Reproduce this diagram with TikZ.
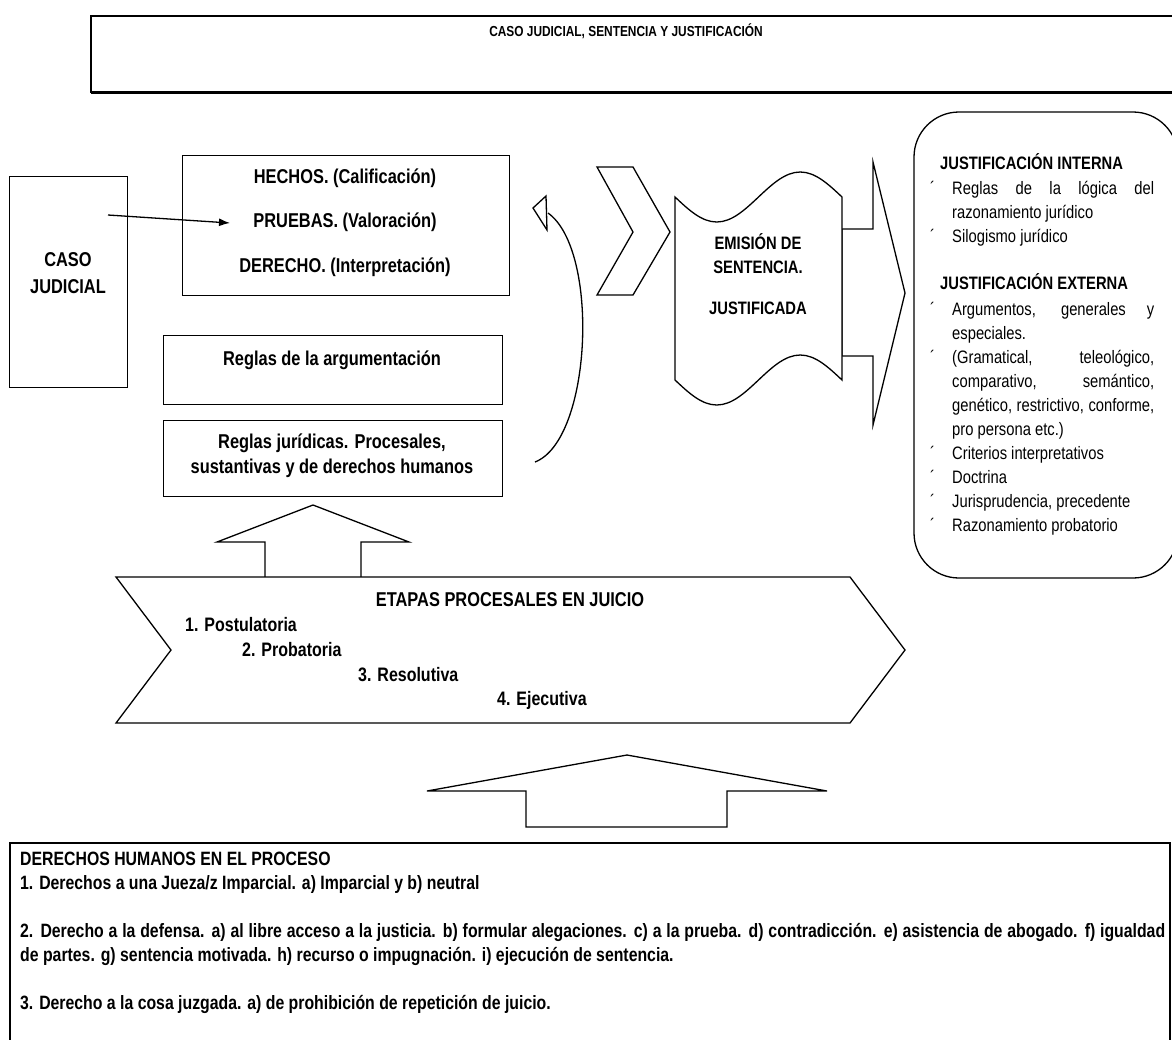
\documentclass[tikz,border=0pt]{standalone}
\usepackage{fontspec}
\setmainfont{Liberation Sans}[FakeStretch=0.82]
\usetikzlibrary{arrows.meta}
\newcommand{\bul}{\makebox[22pt][l]{´}}
\begin{document}
\begin{tikzpicture}[x=1pt,y=-1pt,
  shp/.style={draw,line width=1.3pt,fill=white,line join=miter},
  bx/.style={shp,inner sep=0pt,anchor=north west},
  tb/.style={inner sep=0pt,font=\bfseries\fontsize{20}{26}\selectfont,align=center},
  ts/.style={inner sep=0pt,font=\bfseries\fontsize{18}{25}\selectfont},
  conn/.style={line width=1.3pt}]
\useasboundingbox (0,0) rectangle (1172,1039);
\clip (0,0) rectangle (1172,1039);
\fill[white] (0,0) rectangle (1172,1039);

% top title box
\draw[conn] (1190,16) -- (91,16) -- (91,92) -- (1190,92);
\draw[line width=2.6pt] (91,92.5) -- (1190,92.5);
\node[inner sep=0pt,font=\bfseries\fontsize{14.5}{16}\selectfont] (title) at (626,31) {CASO JUDICIAL, SENTENCIA Y JUSTIFICACIÓN};

% caso judicial
\node[bx,minimum width=118pt,minimum height=211pt] (casobox) at (9,176) {};
\node[tb,font=\bfseries\fontsize{20}{27}\selectfont] (caso) at (68,273) {CASO\\JUDICIAL};

% hechos box
\node[bx,minimum width=327pt,minimum height=140pt] (hbox) at (182,155) {};
\node[tb] (hechos) at (345,178) {HECHOS. (Calificación)};
\node[tb] (pruebas) at (345,222) {PRUEBAS. (Valoración)};
\node[tb] (derecho) at (345,267) {DERECHO. (Interpretación)};

% reglas
\node[bx,minimum width=339pt,minimum height=69pt] (rabox) at (163,335) {};
\node[tb] (ra) at (332,360) {Reglas de la argumentación};
\node[bx,minimum width=339pt,minimum height=76pt] (rjbox) at (163,420) {};
\node[tb,font=\bfseries\fontsize{20}{25}\selectfont] (rj) at (332,456) {Reglas jurídicas. Procesales,\\sustantivas y de derechos humanos};

% arrow caso -> pruebas
\coordinate (a1) at (108,215);
\coordinate (a2) at (230,223);
\draw[conn,-{Latex[length=11pt,width=8pt]}] (a1) -- (a2);

% curved arrow
\coordinate (c1) at (535,462);
\coordinate (c2) at (548,213);
\draw[conn] (c1) .. controls (592,440) and (600,250) .. (c2);
\draw[conn,fill=white,line join=miter] (533,208) -- (546,196) -- (547,230) -- cycle;

% chevron
\draw[shp] (597,167) -- (633,167) -- (670,232) -- (633,295) -- (597,295) -- (633,232) -- cycle;

% block arrow behind scroll
\draw[shp] (842,229) -- (873,229) -- (873,162) -- (905,293) -- (873,425) -- (873,356) -- (842,356) -- cycle;

% scroll
\draw[shp] (675,197) sin (716.75,222) cos (758.5,197) sin (800.25,172) cos (842,197) -- (842,380)
  sin (800.25,355) cos (758.5,380) sin (716.75,405) cos (675,380) -- cycle;
\node[ts] (em1) at (758,242) {EMISIÓN DE};
\node[ts] (em2) at (758,267) {SENTENCIA.};
\node[ts] (em3) at (758,308) {JUSTIFICADA};

% right rounded box
\draw[shp,rounded corners=45pt] (914,112) rectangle (1178,578);
\node[anchor=base west,inner sep=0pt,font=\fontsize{18}{24}\selectfont] (jtext) at (930,169.5) {\parbox[t]{226pt}{%
\hspace*{10pt}\textbf{JUSTIFICACIÓN INTERNA}\\[1pt]
\bul\makebox[202pt][s]{Reglas de la lógica del}\\
\hspace*{22pt}razonamiento jurídico\\
\bul Silogismo jurídico\\[23pt]
\hspace*{10pt}\textbf{JUSTIFICACIÓN EXTERNA}\\[2pt]
\bul\makebox[202pt][s]{Argumentos, generales y}\\
\hspace*{22pt}especiales.\\
\bul\makebox[202pt][s]{(Gramatical, teleológico,}\\
\hspace*{22pt}\makebox[202pt][s]{comparativo, semántico,}\\
\hspace*{22pt}\makebox[202pt][s]{genético, restrictivo, conforme,}\\
\hspace*{22pt}pro persona etc.)\\
\bul Criterios interpretativos\\
\bul Doctrina\\
\bul Jurisprudencia, precedente\\
\bul Razonamiento probatorio}};

% small up arrow
\draw[shp] (265,578) -- (265,542) -- (217,542) -- (313,505) -- (409,542) -- (361,542) -- (361,578);

% etapas chevron
\draw[shp] (116,577) -- (850,577) -- (905,650) -- (850,723) -- (116,723) -- (171,650) -- cycle;
\node[tb] (et) at (510,600) {ETAPAS PROCESALES EN JUICIO};
\node[ts,font=\bfseries\fontsize{19.5}{25}\selectfont,anchor=west] (e1) at (185,625) {1. Postulatoria};
\node[ts,font=\bfseries\fontsize{19.5}{25}\selectfont,anchor=west] (e2) at (242,650) {2. Probatoria};
\node[ts,font=\bfseries\fontsize{19.5}{25}\selectfont,anchor=west] (e3) at (358,675) {3. Resolutiva};
\node[ts,font=\bfseries\fontsize{19.5}{25}\selectfont,anchor=west] (e4) at (497,700) {4. Ejecutiva};

% big up arrow
\draw[shp] (526,827) -- (526,791) -- (427,791) -- (627,755) -- (827,791) -- (727,791) -- (727,827) -- cycle;

% bottom box
\draw[shp] (10,843) rectangle (1170,1060);
\node[anchor=base west,inner sep=0pt,font=\bfseries\fontsize{19.3}{24}\selectfont] (dh) at (20,865) {\parbox[t]{1145pt}{%
DERECHOS HUMANOS EN EL PROCESO\\
1. Derechos a una Jueza/z Imparcial. a) Imparcial y b) neutral\\[24pt]
\makebox[1145pt][s]{2. Derecho a la defensa. a) al libre acceso a la justicia. b) formular alegaciones. c) a la prueba. d) contradicción. e) asistencia de abogado. f) igualdad}\\
de partes. g) sentencia motivada. h) recurso o impugnación. i) ejecución de sentencia.\\[24pt]
3. Derecho a la cosa juzgada. a) de prohibición de repetición de juicio.}};
\end{tikzpicture}
\end{document}
